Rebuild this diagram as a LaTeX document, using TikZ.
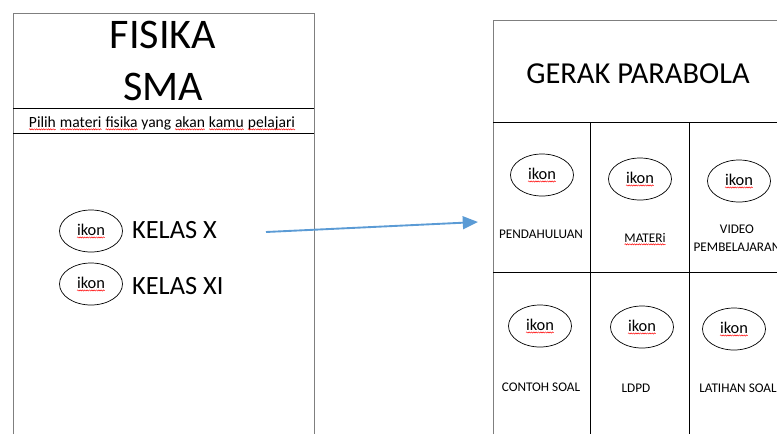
\documentclass[tikz,border=0pt]{standalone}
\usepackage{fontspec}
\setmainfont{Carlito}
\usetikzlibrary{arrows.meta,shapes.geometric,decorations.pathmorphing}
\definecolor{garis}{HTML}{7F7F7F}
\definecolor{panah}{HTML}{5B9BD5}
% red wavy line under a word
\newcommand\salah[1]{\tikz[baseline=(w.base)]{%
  \node[shape=rectangle, draw=none, inner sep=0pt, outer sep=0pt, minimum size=0pt, anchor=center] (w) {#1};
  \draw[red, line width=0.4pt, decorate, decoration={snake, amplitude=0.5pt, segment length=2pt}]
    ([yshift=-2pt]w.base west) -- ([yshift=-2pt]w.base east);}}

\begin{document}
\begin{tikzpicture}[x=0.03cm,y=-0.03cm,
  ikon/.style={draw, ellipse, minimum width=1.89cm, minimum height=1.26cm, inner sep=0pt, line width=0.6pt, font=\fontsize{14}{16}\selectfont},
  menu/.style={anchor=base, align=center, font=\fontsize{11.3}{15}\selectfont},
  kelas/.style={anchor=base west, font=\fontsize{22.5}{26}\selectfont}]
  \useasboundingbox (0,0) rectangle (777,434);

  % Define panels
  \draw[garis, line width=0.8pt] (13,434) -- (13,13) -- (314,13) -- (314,434);
  \draw[line width=0.6pt] (13,108) -- (314,108);
  \draw[line width=0.6pt] (13,133) -- (314,133);
  \draw[garis, line width=0.8pt] (493,434) -- (493,20) -- (777,20);
  \draw[line width=0.6pt] (493,122) -- (777,122);
  \draw[line width=0.6pt] (493,272) -- (777,272);
  \draw[line width=0.6pt] (590,122) -- (590,434);
  \draw[line width=0.6pt] (689,122) -- (689,434);

  % Define nodes
  \node[anchor=base, font=\fontsize{36}{40}\selectfont] (fisika) at (163,48) {FISIKA};
  \node[anchor=base, font=\fontsize{36}{40}\selectfont] (sma) at (163,100) {SMA};
  \node[anchor=base, font=\fontsize{13.3}{16}\selectfont] (pilih) at (162,127)
    {\salah{Pilih} \salah{materi} \salah{fisika} yang \salah{akan} \salah{kamu} \salah{pelajari}};
  \node[ikon] (ikon1) at (91,231) {\salah{ikon}};
  \node[kelas] (kx) at (128,238) {KELAS X};
  \node[ikon] (ikon2) at (91,284) {\salah{ikon}};
  \node[kelas] (kxi) at (128,294) {KELAS XI};

  \node[anchor=base, font=\fontsize{26}{30}\selectfont] (judul) at (638,83) {GERAK PARABOLA};
  \node[ikon] (ikon3) at (542,175) {\salah{ikon}};
  \node[ikon] (ikon4) at (640,179) {\salah{ikon}};
  \node[ikon] (ikon5) at (739,181) {\salah{ikon}};
  \node[menu] (pendahuluan) at (541,238) {PENDAHULUAN};
  \node[menu] (materi) at (645,242) {\salah{MATERi}};
  \node[menu] (video) at (737,251) {VIDEO\\PEMBELAJARAN};
  \node[ikon] (ikon6) at (540,326) {\salah{ikon}};
  \node[ikon] (ikon7) at (642,327) {\salah{ikon}};
  \node[ikon] (ikon8) at (734,329) {\salah{ikon}};
  \node[menu] (contoh) at (541,391) {CONTOH SOAL};
  \node[menu] (ldpd) at (636,392) {LDPD};
  \node[menu] (latihan) at (738,392) {LATIHAN SOAL};

  % Draw arrow
  \coordinate (awal) at (266,232);
  \coordinate (tuju) at (478,222);
  \draw[panah, line width=1.6pt, -{Triangle[length=13pt, width=11pt]}] (awal) -- (tuju);
\end{tikzpicture}
\end{document}
